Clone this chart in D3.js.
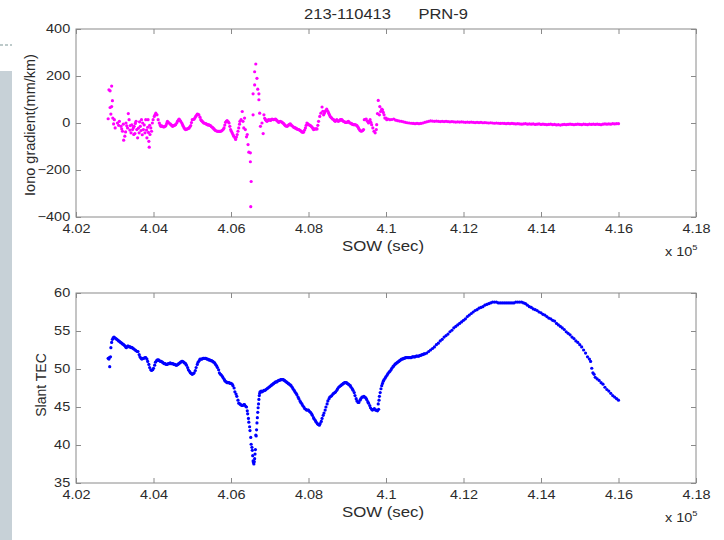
<!DOCTYPE html>
<html>
<head>
<meta charset="utf-8">
<script src="https://cdn.jsdelivr.net/npm/d3@7"></script>
<style>
  html, body { margin: 0; padding: 0; background: #ffffff; }
  svg { display: block; font-family: "Liberation Sans", Arial, sans-serif; }
</style>
</head>
<body>
<svg id="chart" width="724" height="540"></svg>
<script>
// ---------------- data ----------------
const chartTitle = "213-110413      PRN-9";
const xLabel = "SOW (sec)";
const ionoLabel = "Iono gradient(mm/km)";
const tecLabel = "Slant TEC";
const xTicks = [4.02, 4.04, 4.06, 4.08, 4.10, 4.12, 4.14, 4.16, 4.18];
const ionoTicks = [-400, -200, 0, 200, 400];
const tecTicks = [35, 40, 45, 50, 55, 60];

// SOW (x 10^5 sec), iono gradient (mm/km)
const ionoPoints = [
[4.0283,18],[4.0285,141],[4.0288,137],[4.0288,66],[4.0290,38],[4.0292,157],[4.0292,70],[4.0294,95],[4.0295,21],[4.0297,-4],[4.0299,14],[4.0301,-21],
[4.0307,0],[4.0310,-10],[4.0312,7],[4.0316,-14],[4.0318,-25],[4.0320,-35],[4.0322,-5],[4.0323,-73],[4.0326,-56],[4.0328,-38],[4.0329,0],[4.0331,-12],[4.0333,-21],[4.0335,40],[4.0337,14],[4.0339,-30],[4.0340,-11],[4.0342,-42],[4.0344,-8],[4.0346,-28],[4.0348,-20],[4.0349,-49],[4.0350,-14],[4.0352,-45],[4.0353,-2],[4.0355,7],[4.0357,-28],[4.0359,-63],[4.0361,-22],[4.0363,-42],[4.0364,5],[4.0366,-14],[4.0368,-32],[4.0369,14],[4.0371,-50],[4.0372,0],[4.0374,-28],[4.0376,-8],[4.0378,-42],[4.0380,14],[4.0382,-30],[4.0383,-63],[4.0385,-18],[4.0386,14],[4.0387,-40],[4.0388,-78],[4.0389,-103],[4.0390,-10],[4.0391,-49],[4.0393,-21],[4.0395,-35],[4.0397,0],
[4.0399,14],[4.0402,28],[4.0404,35],[4.0406,42],[4.0409,35],[4.0412,14],[4.0415,0],[4.0417,-8],[4.0419,-14],[4.0421,-12],[4.0423,-14],[4.0425,-16],[4.0427,-17],[4.0430,-14],[4.0432,-11],[4.0434,-2],[4.0436,7],[4.0438,3],[4.0440,0],[4.0443,-4],[4.0445,-7],[4.0447,-10],[4.0449,-14],[4.0451,-12],[4.0453,-11],[4.0455,-9],[4.0457,-7],[4.0460,0],[4.0462,7],[4.0464,12],[4.0466,17],[4.0468,12],[4.0470,7],[4.0473,0],[4.0475,-7],[4.0477,-14],[4.0479,-21],[4.0481,-25],[4.0483,-28],[4.0485,-27],[4.0487,-25],[4.0490,-23],[4.0492,-21],[4.0494,-16],[4.0496,-11],[4.0498,2],[4.0500,14],[4.0503,15],[4.0505,17],[4.0507,22],[4.0509,28],[4.0511,33],[4.0513,38],[4.0515,37],[4.0517,35],[4.0520,25],[4.0522,14],[4.0524,10],[4.0526,7],[4.0528,3],[4.0530,0],[4.0532,-1],[4.0535,-3],[4.0537,-5],[4.0539,-7],[4.0541,-8],[4.0543,-8],[4.0545,-10],[4.0547,-11],[4.0549,-15],[4.0552,-18],[4.0554,-22],[4.0556,-25],[4.0558,-29],[4.0560,-32],[4.0563,-34],[4.0565,-35],[4.0567,-35],[4.0569,-35],[4.0571,-36],[4.0573,-35],[4.0575,-34],[4.0577,-32],[4.0580,-27],[4.0582,-21],[4.0584,-9],[4.0586,3],[4.0588,7],[4.0590,10],[4.0593,5],[4.0595,0],[4.0597,-14],[4.0599,-28],[4.0601,-35],[4.0603,-42],[4.0605,-49],[4.0607,-56],[4.0610,-63],[4.0612,-70],[4.0614,-60],[4.0616,-49],[4.0618,-35],[4.0620,-21],[4.0622,-5],[4.0623,7],[4.0626,14],[4.0629,49],[4.0631,7],[4.0633,-21],[4.0635,21],[4.0637,-28],[4.0640,-59],
[4.0642,-49],[4.0644,-92],[4.0646,-124],[4.0650,-127],[4.0650,-165],[4.0652,-249],[4.0651,-356],
[4.0657,35],[4.0657,124],[4.0661,162],[4.0661,218],[4.0664,251],[4.0667,190],[4.0669,144],[4.0672,124],[4.0672,99],[4.0674,42],[4.0676,-14],[4.0680,0],[4.0683,-45],[4.0685,35],
[4.0687,20],[4.0689,14],[4.0691,10],[4.0693,7],[4.0695,11],[4.0697,14],[4.0700,13],[4.0702,11],[4.0704,14],[4.0706,17],[4.0708,15],[4.0710,14],[4.0713,16],[4.0715,17],[4.0717,13],[4.0719,10],[4.0721,6],[4.0723,3],[4.0725,5],[4.0727,7],[4.0730,5],[4.0732,3],[4.0734,0],[4.0736,-3],[4.0738,-7],[4.0740,-11],[4.0742,-13],[4.0745,-14],[4.0747,-11],[4.0749,-8],[4.0751,-6],[4.0753,-4],[4.0755,-8],[4.0757,-11],[4.0760,-15],[4.0762,-18],[4.0764,-20],[4.0766,-21],[4.0768,-23],[4.0770,-25],[4.0772,-27],[4.0775,-28],[4.0777,-30],[4.0779,-32],[4.0781,-35],[4.0783,-38],[4.0785,-39],[4.0787,-39],[4.0790,-30],[4.0792,-21],[4.0794,-10],[4.0796,0],[4.0798,-4],[4.0800,-7],[4.0803,-9],[4.0805,-11],[4.0807,-14],[4.0809,-17],[4.0811,-22],[4.0813,-28],[4.0815,-26],[4.0817,-25],[4.0820,-25],[4.0822,-25],[4.0824,-10],[4.0826,7],[4.0829,28],[4.0832,42],[4.0835,68],[4.0837,50],[4.0839,35],[4.0841,42],[4.0843,49],[4.0845,54],[4.0847,59],[4.0850,50],[4.0852,42],[4.0854,35],[4.0856,28],[4.0858,24],[4.0860,21],[4.0862,17],[4.0865,14],[4.0867,10],[4.0869,7],[4.0871,10],[4.0873,14],[4.0875,10],[4.0877,7],[4.0880,10],[4.0882,14],[4.0884,14],[4.0886,14],[4.0888,10],[4.0890,7],[4.0893,5],[4.0895,3],[4.0897,3],[4.0899,3],[4.0901,5],[4.0903,7],[4.0905,3],[4.0907,0],[4.0910,-2],[4.0912,-4],[4.0914,-6],[4.0916,-7],[4.0918,-7],[4.0920,-7],[4.0923,-9],[4.0925,-11],[4.0927,-16],[4.0929,-21],[4.0931,-27],[4.0933,-32],[4.0935,-34],[4.0937,-35],[4.0940,-32],[4.0942,-28],[4.0944,14],[4.0947,16],[4.0949,17],[4.0952,7],[4.0955,0],[4.0957,7],[4.0959,14],[4.0961,3],[4.0963,-7],[4.0966,-21],[4.0969,-35],[4.0972,-42],[4.0975,-28],[4.0976,-7],[4.0978,40],
[4.0980,96],[4.0983,35],[4.0984,70],[4.0986,49],[4.0989,59],[4.0991,56],[4.0993,45],[4.0995,35],[4.0997,21],[4.1000,21],[4.1002,14],
[4.1005,17],[4.1010,14],[4.1015,15],[4.1020,17],[4.1025,12],[4.1030,10],[4.1035,8],[4.1040,7],[4.1045,5],[4.1050,3],[4.1055,1],[4.1060,0],[4.1065,-1],[4.1070,-2],[4.1075,-3],[4.1080,-2],[4.1085,-3],[4.1090,-2],[4.1095,0],[4.1100,3],[4.1105,5],[4.1110,7],[4.1115,9],[4.1120,8],[4.1125,7],[4.1130,8],[4.1135,7],[4.1140,6],[4.1145,7],[4.1150,6],[4.1155,7],[4.1160,6],[4.1165,5],[4.1170,6],[4.1175,5],[4.1180,4],[4.1185,5],[4.1190,4],[4.1195,5],[4.1200,4],[4.1205,3],[4.1210,4],[4.1215,3],[4.1220,4],[4.1225,3],[4.1230,2],[4.1235,3],[4.1240,2],[4.1245,3],[4.1250,1],[4.1255,2],[4.1260,1],[4.1265,0],[4.1270,1],[4.1275,0],[4.1280,-1],[4.1285,0],[4.1290,-1],[4.1295,-2],[4.1300,-1],[4.1305,-2],[4.1310,-3],[4.1315,-2],[4.1320,-3],[4.1325,-2],[4.1330,-3],[4.1335,-4],[4.1340,-3],[4.1345,-4],[4.1350,-5],[4.1355,-4],[4.1360,-3],[4.1365,-5],[4.1370,-4],[4.1375,-5],[4.1380,-4],[4.1385,-6],[4.1390,-5],[4.1395,-4],[4.1400,-6],[4.1405,-5],[4.1410,-6],[4.1415,-7],[4.1420,-6],[4.1425,-5],[4.1430,-7],[4.1435,-6],[4.1440,-8],[4.1445,-7],[4.1450,-9],[4.1455,-7],[4.1460,-6],[4.1465,-7],[4.1470,-6],[4.1475,-5],[4.1480,-6],[4.1485,-7],[4.1490,-6],[4.1495,-5],[4.1500,-6],[4.1505,-7],[4.1510,-5],[4.1515,-6],[4.1520,-7],[4.1525,-5],[4.1530,-6],[4.1535,-5],[4.1540,-6],[4.1545,-5],[4.1550,-6],[4.1555,-7],[4.1560,-5],[4.1565,-4],[4.1570,-5],[4.1575,-4],[4.1580,-5],[4.1585,-3],[4.1590,-4],[4.1595,-3],[4.1600,-3]
];

// SOW (x 10^5 sec), slant TEC
const tecPoints = [
[4.0283,51.4],[4.0285,51.3],[4.0286,51.5],[4.0287,50.3],[4.0289,51.6],[4.0290,52.8],[4.0292,53.5],[4.0294,53.9],[4.0296,54.1],[4.0298,54.2],[4.0300,54.1],[4.0303,54.0],[4.0305,53.9],[4.0308,53.8],[4.0310,53.7],[4.0313,53.6],[4.0315,53.5],[4.0318,53.4],[4.0320,53.3],[4.0323,53.2],[4.0325,53.1],[4.0328,52.9],[4.0330,52.8],[4.0333,53.0],[4.0335,53.0],[4.0338,52.9],[4.0340,52.9],[4.0343,52.8],[4.0345,52.8],[4.0348,52.7],[4.0350,52.6],[4.0353,52.5],[4.0355,52.4],[4.0358,52.3],[4.0360,52.3],[4.0363,51.9],[4.0365,51.6],[4.0368,51.4],[4.0370,51.3],[4.0373,51.4],[4.0375,51.4],[4.0378,51.5],[4.0380,51.5],[4.0383,51.3],[4.0385,51.0],[4.0388,50.6],[4.0390,50.2],[4.0393,49.9],[4.0395,49.8],[4.0398,49.9],
[4.0400,50.1],[4.0403,50.5],[4.0405,50.9],[4.0408,51.1],[4.0410,51.2],[4.0413,51.2],[4.0415,51.1],[4.0418,51.0],[4.0420,51.0],[4.0423,50.9],[4.0425,50.8],[4.0428,50.7],[4.0430,50.7],[4.0433,50.6],[4.0435,50.6],[4.0438,50.7],[4.0440,50.7],[4.0443,50.8],[4.0445,50.7],[4.0448,50.7],[4.0450,50.7],[4.0453,50.6],[4.0455,50.6],[4.0458,50.5],[4.0460,50.5],[4.0463,50.6],[4.0465,50.7],[4.0468,50.8],[4.0470,50.9],[4.0473,51.0],[4.0475,51.0],[4.0478,50.9],[4.0480,50.8],[4.0483,50.7],[4.0485,50.5],[4.0488,50.2],[4.0490,49.9],[4.0493,49.7],[4.0495,49.5],[4.0498,49.4],
[4.0500,49.3],[4.0503,49.4],[4.0505,49.5],[4.0508,49.8],[4.0510,50.2],[4.0513,50.6],[4.0515,50.9],[4.0518,51.1],[4.0520,51.3],[4.0523,51.3],[4.0525,51.3],[4.0528,51.4],[4.0530,51.4],[4.0533,51.4],[4.0535,51.4],[4.0538,51.3],[4.0540,51.3],[4.0543,51.2],[4.0545,51.2],[4.0548,51.1],[4.0550,51.1],[4.0553,51.0],[4.0555,50.9],[4.0558,50.8],[4.0560,50.6],[4.0563,50.4],[4.0565,50.2],[4.0568,49.9],[4.0570,49.5],[4.0573,49.3],[4.0575,49.2],[4.0578,49.0],[4.0580,48.8],[4.0583,48.6],[4.0585,48.4],[4.0588,48.3],[4.0590,48.2],[4.0593,48.2],[4.0595,48.2],[4.0598,48.1],
[4.0600,48.1],[4.0603,48.0],[4.0605,47.8],[4.0608,47.5],[4.0610,47.0],[4.0613,46.7],[4.0615,46.4],[4.0618,45.9],[4.0620,45.5],[4.0623,45.4],[4.0625,45.3],[4.0628,45.2],[4.0630,45.2],[4.0633,45.3],[4.0635,45.3],[4.0638,45.1],[4.0640,45.0],[4.0642,44.5],[4.0643,44.1],[4.0645,43.5],[4.0646,43.0],[4.0648,42.4],[4.0649,41.9],[4.0651,41.0],[4.0652,40.1],[4.0654,39.7],[4.0655,39.3],[4.0656,38.6],[4.0657,37.9],[4.0658,37.7],[4.0659,37.5],[4.0660,37.8],[4.0661,38.2],[4.0662,38.8],[4.0663,39.4],[4.0664,41.3],[4.0665,41.2],[4.0666,42.0],[4.0667,42.9],[4.0668,43.6],[4.0669,44.3],[4.0670,44.9],[4.0671,45.4],[4.0672,46.0],[4.0673,46.5],[4.0674,46.8],[4.0675,47.0],[4.0678,47.1],[4.0680,47.0],[4.0683,47.1],[4.0685,47.2],[4.0688,47.2],[4.0690,47.3],[4.0693,47.4],[4.0695,47.5],[4.0698,47.6],
[4.0700,47.7],[4.0703,47.8],[4.0705,47.9],[4.0708,48.0],[4.0710,48.1],[4.0713,48.2],[4.0715,48.3],[4.0718,48.3],[4.0720,48.4],[4.0723,48.5],[4.0725,48.5],[4.0728,48.6],[4.0730,48.6],[4.0733,48.6],[4.0735,48.6],[4.0738,48.5],[4.0740,48.4],[4.0743,48.3],[4.0745,48.2],[4.0748,48.1],[4.0750,48.0],[4.0753,47.9],[4.0755,47.8],[4.0758,47.6],[4.0760,47.4],[4.0763,47.2],[4.0765,47.0],[4.0768,46.8],[4.0770,46.6],[4.0773,46.3],[4.0775,46.1],[4.0778,45.8],[4.0780,45.6],[4.0783,45.4],[4.0785,45.2],[4.0788,45.0],[4.0790,44.8],[4.0793,44.7],[4.0795,44.6],[4.0798,44.6],
[4.0800,44.6],[4.0803,44.4],[4.0805,44.3],[4.0808,44.1],[4.0810,43.9],[4.0813,43.6],[4.0815,43.4],[4.0818,43.2],[4.0820,43.0],[4.0823,42.8],[4.0825,42.7],[4.0828,42.6],[4.0830,42.8],[4.0833,43.1],[4.0835,43.5],[4.0838,43.9],[4.0840,44.2],[4.0843,44.6],[4.0845,45.0],[4.0848,45.4],[4.0850,45.8],[4.0853,46.1],[4.0855,46.3],[4.0858,46.4],[4.0860,46.5],[4.0863,46.7],[4.0865,46.8],[4.0868,46.9],[4.0870,47.0],[4.0873,47.2],[4.0875,47.4],[4.0878,47.6],[4.0880,47.7],[4.0883,47.8],[4.0885,47.9],[4.0888,48.0],[4.0890,48.1],[4.0893,48.2],[4.0895,48.2],[4.0898,48.2],
[4.0900,48.1],[4.0903,48.0],[4.0905,47.9],[4.0908,47.8],[4.0910,47.6],[4.0913,47.4],[4.0915,47.2],[4.0918,46.9],[4.0920,46.5],[4.0923,46.1],[4.0925,45.8],[4.0928,45.6],[4.0930,45.6],[4.0933,45.9],[4.0935,46.1],[4.0938,46.3],[4.0940,46.3],[4.0943,46.4],[4.0945,46.3],[4.0948,46.2],[4.0950,46.0],[4.0953,45.7],[4.0955,45.5],[4.0958,45.2],[4.0960,44.9],[4.0963,44.7],[4.0965,44.6],[4.0968,44.7],[4.0970,44.8],[4.0973,44.6],[4.0975,44.6],[4.0978,44.5],[4.0981,44.7],
[4.0980,45.4],[4.0982,45.9],[4.0983,46.4],[4.0985,46.9],[4.0987,47.4],[4.0989,47.8],[4.0991,48.1],[4.0993,48.4],[4.0995,48.6],[4.0998,48.8],
[4.1000,49.0],[4.1003,49.2],[4.1005,49.4],[4.1008,49.6],[4.1010,49.7],[4.1013,49.9],[4.1015,50.1],[4.1018,50.3],[4.1020,50.4],[4.1023,50.6],[4.1025,50.7],[4.1028,50.8],[4.1030,50.9],[4.1033,51.0],[4.1035,51.1],[4.1038,51.2],[4.1040,51.3],[4.1043,51.3],[4.1045,51.4],[4.1048,51.4],[4.1050,51.5],[4.1053,51.5],[4.1055,51.5],[4.1058,51.5],[4.1060,51.5],[4.1063,51.5],[4.1065,51.5],[4.1068,51.6],[4.1070,51.6],[4.1073,51.6],[4.1075,51.6],[4.1078,51.7],[4.1080,51.7],[4.1083,51.7],[4.1085,51.7],[4.1088,51.8],[4.1090,51.8],[4.1093,51.9],[4.1095,51.9],[4.1098,52.0],
[4.1100,52.0],[4.1105,52.1],[4.1110,52.3],[4.1115,52.5],[4.1120,52.7],[4.1125,52.9],[4.1130,53.2],[4.1135,53.4],[4.1140,53.7],[4.1145,53.9],[4.1150,54.2],[4.1155,54.4],[4.1160,54.6],[4.1165,54.9],[4.1170,55.1],[4.1175,55.4],[4.1180,55.6],[4.1185,55.8],[4.1190,56.0],[4.1195,56.2],
[4.1200,56.4],[4.1205,56.6],[4.1210,56.9],[4.1215,57.1],[4.1220,57.3],[4.1225,57.5],[4.1230,57.7],[4.1235,57.8],[4.1240,58.0],[4.1245,58.1],[4.1250,58.2],[4.1255,58.4],[4.1260,58.5],[4.1265,58.6],[4.1270,58.7],[4.1275,58.8],[4.1280,58.8],[4.1285,58.8],[4.1290,58.7],[4.1295,58.7],
[4.1300,58.7],[4.1305,58.7],[4.1310,58.7],[4.1315,58.7],[4.1320,58.7],[4.1325,58.7],[4.1330,58.7],[4.1335,58.8],[4.1340,58.8],[4.1345,58.8],[4.1350,58.8],[4.1355,58.7],[4.1360,58.6],[4.1365,58.4],[4.1370,58.2],[4.1375,58.1],[4.1380,57.9],[4.1385,57.8],[4.1390,57.7],[4.1395,57.5],
[4.1400,57.4],[4.1405,57.2],[4.1410,57.1],[4.1415,56.9],[4.1420,56.7],[4.1425,56.6],[4.1430,56.4],[4.1435,56.3],[4.1440,56.0],[4.1445,55.8],[4.1450,55.6],[4.1455,55.4],[4.1460,55.2],[4.1465,54.9],[4.1470,54.7],[4.1475,54.5],[4.1480,54.2],[4.1485,54.0],[4.1490,53.7],[4.1495,53.5],
[4.1500,53.2],[4.1505,52.9],[4.1510,52.5],[4.1515,52.1],[4.1520,51.6],[4.1525,51.3],[4.1528,51.0],[4.1531,50.1],[4.1534,49.5],[4.1537,49.3],[4.1540,48.9],[4.1545,48.7],[4.1550,48.5],[4.1555,48.2],[4.1560,48.0],[4.1565,47.6],[4.1570,47.3],[4.1575,47.1],[4.1580,46.8],[4.1585,46.5],[4.1590,46.3],[4.1595,46.1],[4.1600,45.9]
];

// ---------------- drawing ----------------
const svg = d3.select("#chart");
const FRAME = "#8a8a8a";
const TEXT = "#2b2b2b";
const FONT = '"Liberation Sans", Arial, sans-serif';
const STRETCH = 1.16;

// slide decoration on the left edge
svg.append("rect").attr("x", 0).attr("y", 71).attr("width", 12).attr("height", 469).attr("fill", "#c7d1d7");
svg.append("line").attr("x1", 0).attr("x2", 12).attr("y1", 45).attr("y2", 45)
  .attr("stroke", "#7d9696").attr("stroke-width", 1.2).attr("stroke-dasharray", "3,2");

function hText(x, y, str, size, anchor, stretch) {
  return svg.append("text")
    .attr("transform", `translate(${x},${y}) scale(${stretch},1)`)
    .attr("text-anchor", anchor)
    .attr("font-size", size)
    .attr("fill", TEXT)
    .style("white-space", "pre")
    .text(str);
}

function panel(cfg) {
  const { left, right, top, bottom, yDomain, yTicks, points, color, yLabel, yLabelX, yLabelY, yLabelSize } = cfg;
  const x = d3.scaleLinear().domain([xTicks[0], xTicks[xTicks.length - 1]]).range([left, right]);
  const y = d3.scaleLinear().domain(yDomain).range([bottom, top]);
  const g = svg.append("g");

  // frame
  g.append("rect").attr("x", left).attr("y", top).attr("width", right - left).attr("height", bottom - top)
    .attr("fill", "#ffffff").attr("stroke", FRAME).attr("stroke-width", 1);

  const fmtX = d => String(+d.toFixed(2));
  const axB = g.append("g").attr("transform", `translate(0,${bottom})`)
    .call(d3.axisBottom(x).tickValues(xTicks).tickFormat(fmtX).tickSizeInner(-5).tickSizeOuter(0).tickPadding(7));
  const axT = g.append("g").attr("transform", `translate(0,${top})`)
    .call(d3.axisTop(x).tickValues(xTicks).tickFormat("").tickSizeInner(-5).tickSizeOuter(0));
  const axL = g.append("g").attr("transform", `translate(${left},0)`)
    .call(d3.axisLeft(y).tickValues(yTicks).tickFormat(d3.format("d")).tickSizeInner(-5).tickSizeOuter(0).tickPadding(5));
  const axR = g.append("g").attr("transform", `translate(${right},0)`)
    .call(d3.axisRight(y).tickValues(yTicks).tickFormat("").tickSizeInner(-5).tickSizeOuter(0));

  [axB, axT, axL, axR].forEach(a => {
    a.select(".domain").remove();
    a.selectAll(".tick line").attr("stroke", FRAME);
    a.selectAll(".tick text").attr("fill", TEXT).attr("font-size", 12.5).attr("font-family", FONT);
  });
  axB.selectAll(".tick text").attr("transform", `scale(${STRETCH},1)`);
  axL.selectAll(".tick text").attr("transform", `scale(${STRETCH},1)`).attr("dy", "0.28em");

  // data dots
  g.append("g").selectAll("circle").data(points).join("circle")
    .attr("cx", d => x(d[0])).attr("cy", d => y(d[1])).attr("r", 1.6)
    .attr("fill", color);

  // labels
  hText((left + right) / 2 - 3, bottom + 34, xLabel, 14, "middle", 1.2);
  const ex = hText(665, bottom + 39, "x 10", 12.5, "start", STRETCH);
  ex.append("tspan").attr("dy", -6).attr("font-size", 8).text("5");

  svg.append("text")
    .attr("transform", `translate(${yLabelX},${yLabelY}) rotate(-90)`)
    .attr("text-anchor", "middle").attr("font-size", yLabelSize).attr("fill", TEXT)
    .text(yLabel);
}

panel({ left: 76, right: 696, top: 29, bottom: 217, yDomain: [-400, 400], yTicks: ionoTicks,
  points: ionoPoints, color: "#ff00ff", yLabel: ionoLabel, yLabelX: 35, yLabelY: 125, yLabelSize: 14.5 });
panel({ left: 76, right: 696, top: 293, bottom: 483, yDomain: [35, 60], yTicks: tecTicks,
  points: tecPoints, color: "#0000ff", yLabel: tecLabel, yLabelX: 46, yLabelY: 385, yLabelSize: 14 });

hText(386, 19, chartTitle, 14, "middle", 1.18);
</script>
</body>
</html>
